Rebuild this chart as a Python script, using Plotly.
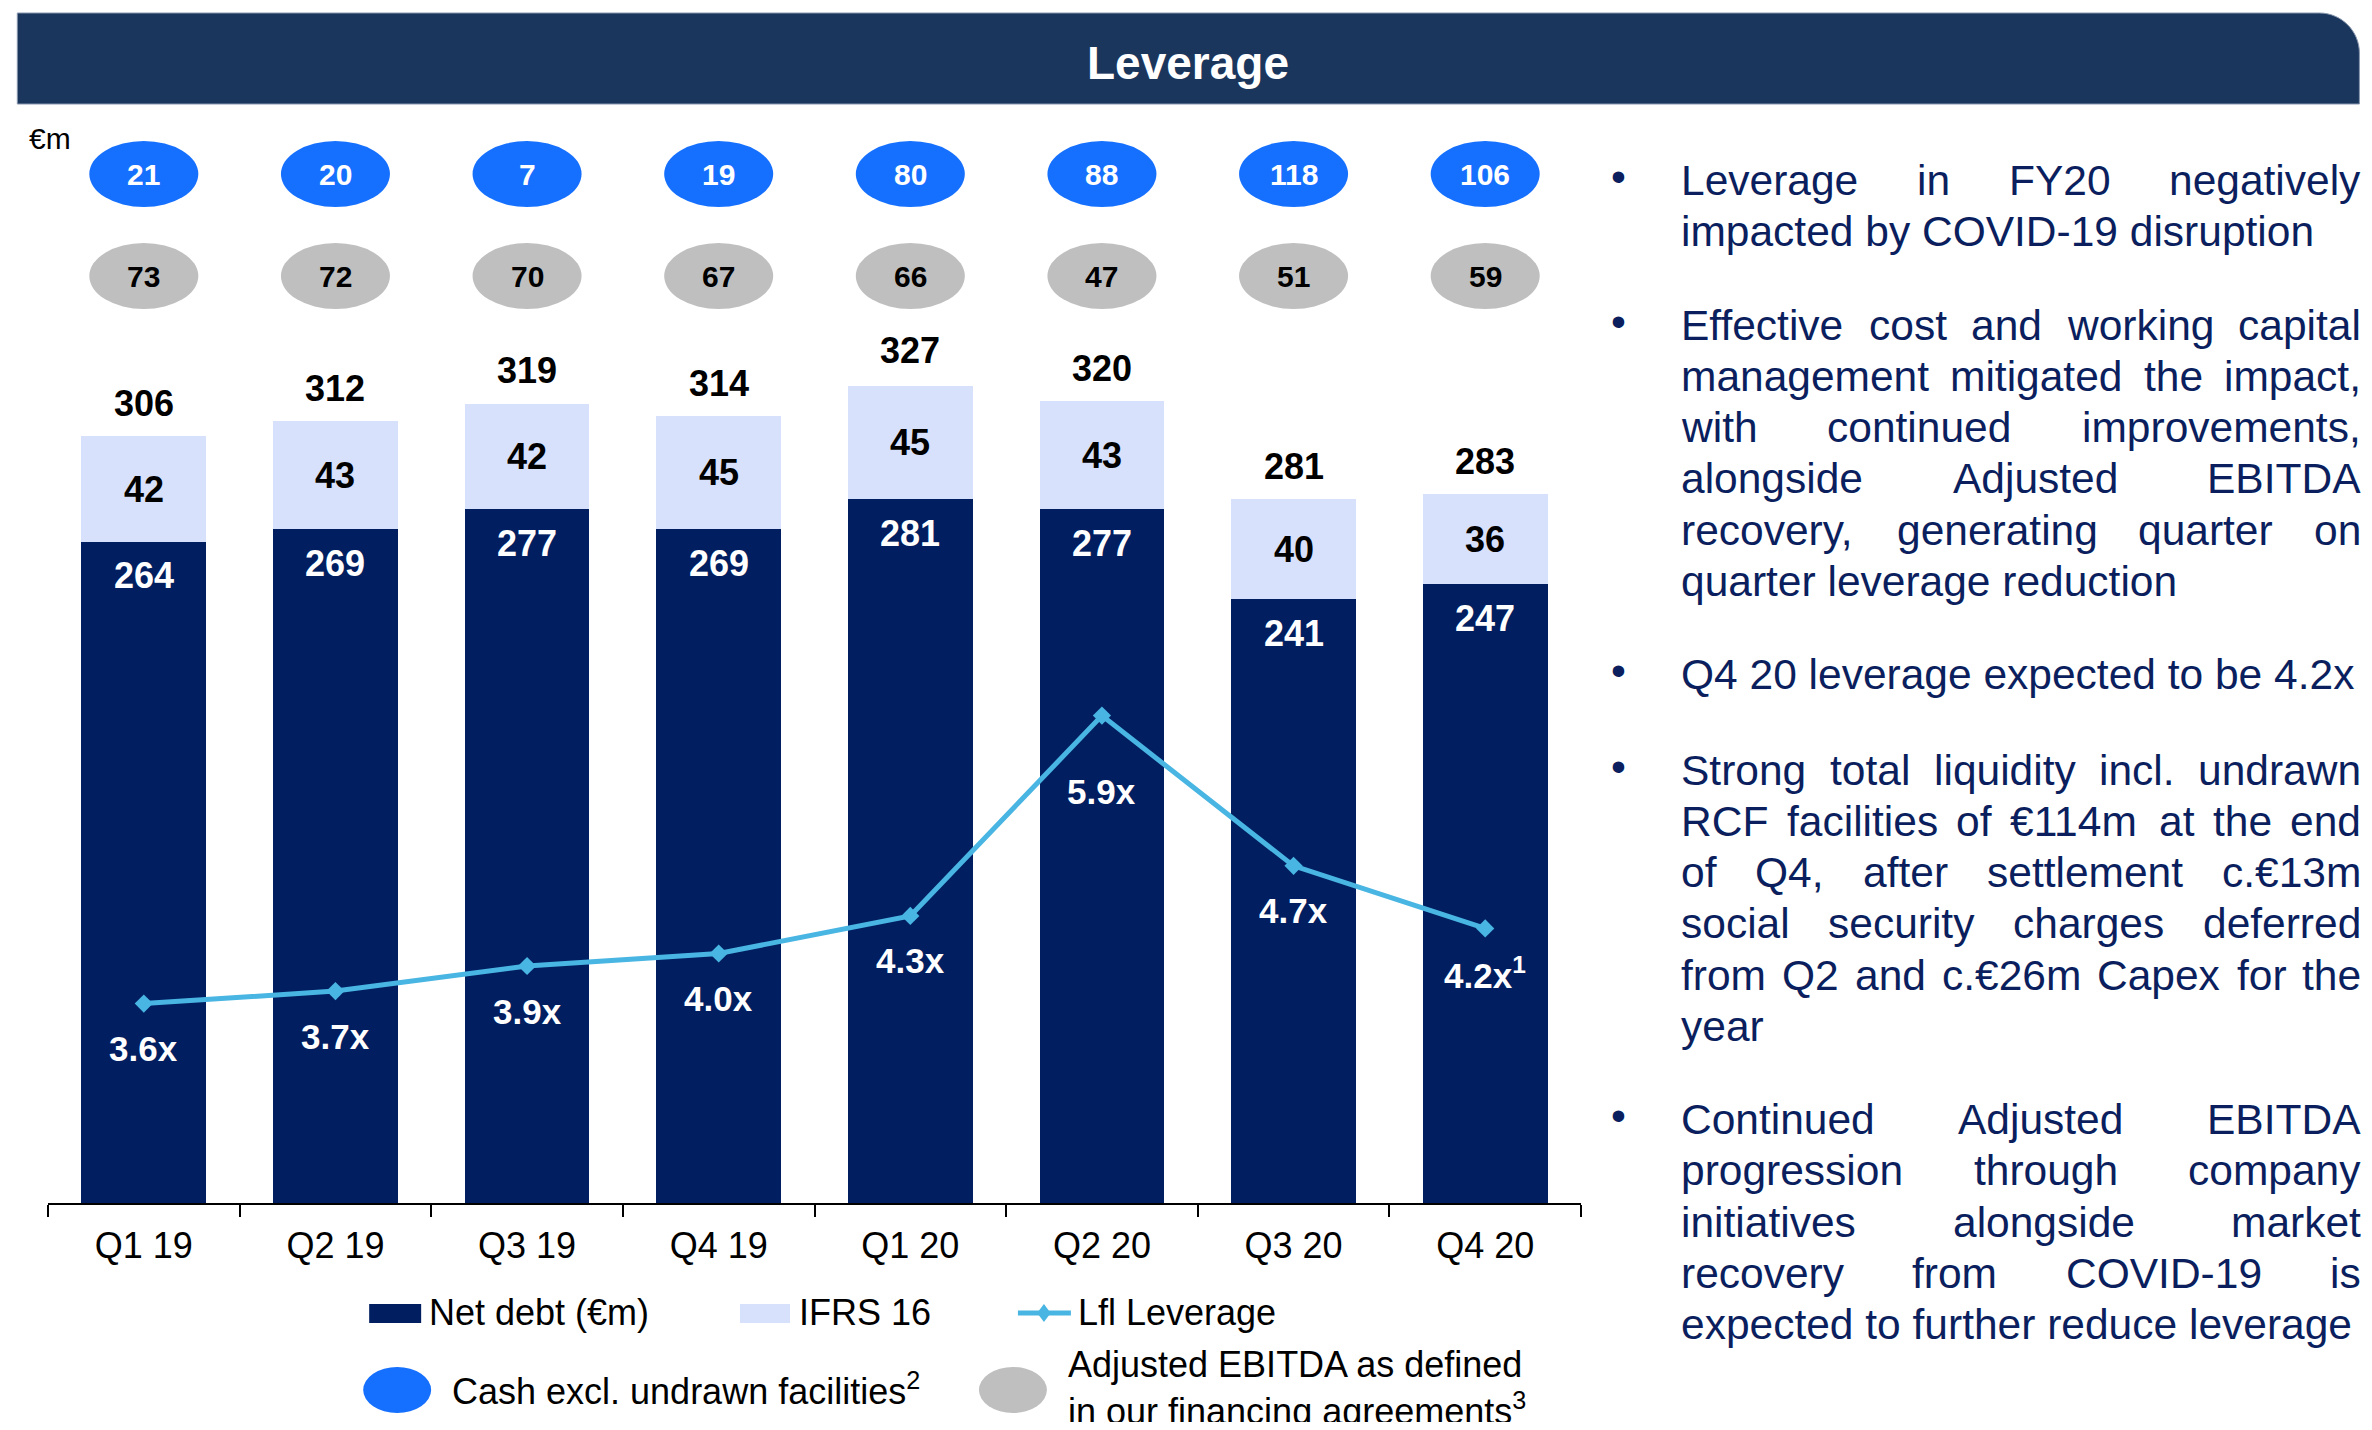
import plotly.graph_objects as go

# ---------------- data ----------------
QUARTERS = ["Q1 19", "Q2 19", "Q3 19", "Q4 19", "Q1 20", "Q2 20", "Q3 20", "Q4 20"]
NET_DEBT = [264, 269, 277, 269, 281, 277, 241, 247]
IFRS16 = [42, 43, 42, 45, 45, 43, 40, 36]
TOTAL = [306, 312, 319, 314, 327, 320, 281, 283]
LEVERAGE = [3.6, 3.7, 3.9, 4.0, 4.3, 5.9, 4.7, 4.2]
LEVERAGE_LABELS = ["3.6x", "3.7x", "3.9x", "4.0x", "4.3x", "5.9x", "4.7x", "4.2x<sup>1</sup>"]
CASH = [21, 20, 7, 19, 80, 88, 118, 106]
EBITDA = [73, 72, 70, 67, 66, 47, 51, 59]

TITLE = "Leverage"
UNIT = "€m"
LEGEND_ROW1 = ["Net debt (€m)", "IFRS 16", "Lfl Leverage"]
LEGEND_CASH = "Cash excl. undrawn facilities<sup>2</sup>"
LEGEND_EBITDA = ["Adjusted EBITDA as defined", "in our financing agreements<sup>3</sup>"]

PARAGRAPHS = [
    ["Leverage in FY20 negatively",
     "impacted by COVID-19 disruption"],
    ["Effective cost and working capital",
     "management mitigated the impact,",
     "with continued improvements,",
     "alongside Adjusted EBITDA",
     "recovery, generating quarter on",
     "quarter leverage reduction"],
    ["Q4 20 leverage expected to be 4.2x"],
    ["Strong total liquidity incl. undrawn",
     "RCF facilities of €114m at the end",
     "of Q4, after settlement c.€13m",
     "social security charges deferred",
     "from Q2 and c.€26m Capex for the",
     "year"],
    ["Continued Adjusted EBITDA",
     "progression through company",
     "initiatives alongside market",
     "recovery from COVID-19 is",
     "expected to further reduce leverage"],
]

# ---------------- styles / layout ----------------
PAGE_OFF = 8               # browser default body margin
W, H = 2356, 1414          # figure size (fits in 2372x1430 with body margin)
PL, PR = 47.7, 1581.3      # plot x extent (page px)
PT, PB = 130, 1203         # plot y extent (page px)
FONT = "Liberation Sans, Arial, sans-serif"
NAVY = "#001E60"
IFRS_C = "#D7E1FB"
LINE_C = "#48B5E2"
HEADER_C = "#1B365D"
BLUE_E = "#1670FF"
GRAY_E = "#BFBFBF"
TEXT_NAVY = "#0B1F5E"

BAR_MAX = (PB - PT) / 2.505
Y2_LO = 4.2875 - (PB - 917.5) / 125.2
Y2_HI = 4.2875 + (917.5 - PT) / 125.2


def px(x):
    return (x - PL) / (PR - PL)


def py(y):
    return (PB - y) / (PB - PT)


fig = go.Figure()
fig.add_trace(go.Bar(x=QUARTERS, y=NET_DEBT, marker_color=NAVY, marker_line_width=0,
                     name=LEGEND_ROW1[0], showlegend=False))
fig.add_trace(go.Bar(x=QUARTERS, y=IFRS16, marker_color=IFRS_C, marker_line_width=0,
                     name=LEGEND_ROW1[1], showlegend=False))
fig.add_trace(go.Scatter(x=QUARTERS, y=LEVERAGE, yaxis="y2", mode="lines+markers",
                         line=dict(color=LINE_C, width=5),
                         marker=dict(symbol="diamond", size=14, color=LINE_C),
                         name=LEGEND_ROW1[2], showlegend=False))

ann = []
shapes = []

# bar labels
for q, n, f, t in zip(QUARTERS, NET_DEBT, IFRS16, TOTAL):
    ann.append(dict(x=q, y=t, xref="x", yref="y", text=f"<b>{t}</b>", showarrow=False,
                    xanchor="center", yanchor="middle", yshift=33,
                    font=dict(size=36, color="black")))
    ann.append(dict(x=q, y=n + f / 2, xref="x", yref="y", text=f"<b>{f}</b>", showarrow=False,
                    xanchor="center", yanchor="middle", font=dict(size=36, color="black")))
    ann.append(dict(x=q, y=n, xref="x", yref="y", text=f"<b>{n}</b>", showarrow=False,
                    xanchor="center", yanchor="middle", yshift=-34,
                    font=dict(size=36, color="white")))

# leverage labels
peak = max(LEVERAGE)
for q, v, lab in zip(QUARTERS, LEVERAGE, LEVERAGE_LABELS):
    ann.append(dict(x=q, y=v, xref="x", yref="y2", text=f"<b>{lab}</b>", showarrow=False,
                    xanchor="center", yanchor="middle", yshift=-76 if v == peak else -45,
                    font=dict(size=35, color="white")))

# ellipses rows (cash, ebitda)
for i, (q, c, e) in enumerate(zip(QUARTERS, CASH, EBITDA)):
    for yc, val, fill, tc in ((174, c, BLUE_E, "white"), (276, e, GRAY_E, "black")):
        shapes.append(dict(type="circle", xref="x", yref="paper", xsizemode="pixel",
                           ysizemode="pixel", xanchor=i, yanchor=py(yc),
                           x0=-54.5, x1=54.5, y0=-33, y1=33,
                           fillcolor=fill, line=dict(width=0), layer="above"))
        ann.append(dict(x=q, y=py(yc), xref="x", yref="paper", text=f"<b>{val}</b>",
                        showarrow=False, xanchor="center", yanchor="middle",
                        font=dict(size=30, color=tc)))

# header band with rounded top-right corner
hx0, hx1, hy0, hy1, r = 17, 2360, 13, 104, 40
path = (f"M {px(hx0)},{py(hy1)} L {px(hx0)},{py(hy0)} L {px(hx1 - r)},{py(hy0)} "
        f"C {px(hx1 - r * 0.45)},{py(hy0)} {px(hx1)},{py(hy0 + r * 0.45)} {px(hx1)},{py(hy0 + r)} "
        f"L {px(hx1)},{py(hy1)} Z")
shapes.append(dict(type="path", xref="paper", yref="paper", path=path,
                   fillcolor=HEADER_C, line=dict(color="#8796AE", width=1)))
ann.append(dict(x=px((hx0 + hx1) / 2), y=py(63), xref="paper", yref="paper",
                text=f"<b>{TITLE}</b>", showarrow=False, xanchor="center", yanchor="middle",
                font=dict(size=46, color="white")))

# unit label
ann.append(dict(x=px(27), y=py(138), xref="paper", yref="paper", text=UNIT,
                showarrow=False, xanchor="left", yanchor="middle",
                font=dict(size=30, color="black")))

# custom legend
LEG_Y1 = 1312
shapes.append(dict(type="rect", xref="paper", yref="paper", x0=px(369), x1=px(421),
                   y0=py(1323), y1=py(1304), fillcolor=NAVY, line=dict(width=0)))
shapes.append(dict(type="rect", xref="paper", yref="paper", x0=px(740), x1=px(790),
                   y0=py(1323), y1=py(1304), fillcolor=IFRS_C, line=dict(width=0)))
shapes.append(dict(type="line", xref="paper", yref="paper", x0=px(1018), x1=px(1071),
                   y0=py(1313), y1=py(1313), line=dict(color=LINE_C, width=5)))
dcx, dcy, dr = 1044, 1313, 9
shapes.append(dict(type="path", xref="paper", yref="paper",
                   path=(f"M {px(dcx)},{py(dcy - dr)} L {px(dcx + dr * 0.75)},{py(dcy)} "
                         f"L {px(dcx)},{py(dcy + dr)} L {px(dcx - dr * 0.75)},{py(dcy)} Z"),
                   fillcolor=LINE_C, line=dict(width=0)))
for xl, txt in zip((427, 797, 1076), LEGEND_ROW1):
    ann.append(dict(x=px(xl), y=py(LEG_Y1), xref="paper", yref="paper", text=txt,
                    showarrow=False, xanchor="left", yanchor="middle",
                    font=dict(size=36, color="black")))
for cx, fill in ((397, BLUE_E), (1013, GRAY_E)):
    shapes.append(dict(type="circle", xref="paper", yref="paper",
                       x0=px(cx - 34), x1=px(cx + 34), y0=py(1413), y1=py(1367),
                       fillcolor=fill, line=dict(width=0)))
ann.append(dict(x=px(450), y=py(1389), xref="paper", yref="paper", text=LEGEND_CASH,
                showarrow=False, xanchor="left", yanchor="middle",
                font=dict(size=36, color="black")))
ann.append(dict(x=px(1066), y=py(1388), xref="paper", yref="paper",
                text="<br>".join(LEGEND_EBITDA), align="left",
                showarrow=False, xanchor="left", yanchor="middle",
                font=dict(size=36, color="black")))

# right-hand justified text
ARIAL_W = {' ': 278, ',': 278, '-': 333, '.': 278, '€': 556, 'A': 667, 'B': 667, 'C': 722,
           'D': 722, 'E': 667, 'F': 611, 'G': 778, 'H': 722, 'I': 278, 'J': 500, 'K': 667,
           'L': 556, 'M': 833, 'N': 722, 'O': 778, 'P': 667, 'Q': 778, 'R': 722, 'S': 667,
           'T': 611, 'U': 722, 'V': 667, 'W': 944, 'X': 667, 'Y': 667, 'Z': 611,
           'a': 556, 'b': 556, 'c': 500, 'd': 556, 'e': 556, 'f': 278, 'g': 556, 'h': 556,
           'i': 222, 'j': 222, 'k': 500, 'l': 222, 'm': 833, 'n': 556, 'o': 556, 'p': 556,
           'q': 556, 'r': 333, 's': 500, 't': 278, 'u': 556, 'v': 500, 'w': 722, 'x': 500,
           'y': 500, 'z': 500}
TS = 42.5
TL, TR = 1681, 2362
BULLET_X = 1619
PARA_Y = [180, 325, 674.7, 770, 1119.5]
LINE_H = 51.3


def tw(s):
    return sum(ARIAL_W.get(ch, 556) for ch in s) / 1000 * TS


def word_ann(x, y, txt, anchor):
    return dict(x=px(x), y=py(y), xref="paper", yref="paper", text=txt, showarrow=False,
                xanchor=anchor, yanchor="middle", borderpad=0, borderwidth=0,
                font=dict(size=TS, color=TEXT_NAVY))


for para, y0 in zip(PARAGRAPHS, PARA_Y):
    ann.append(dict(x=px(BULLET_X), y=py(y0 - 4), xref="paper", yref="paper", text="•",
                    showarrow=False, xanchor="center", yanchor="middle",
                    font=dict(size=TS, color=TEXT_NAVY)))
    for li, line in enumerate(para):
        y = y0 + li * LINE_H
        words = line.split()
        last = li == len(para) - 1
        if last or len(words) == 1:
            ann.append(word_ann(TL, y, line, "left"))
            continue
        widths = [tw(w) for w in words]
        gap = (TR - TL - sum(widths)) / (len(words) - 1)
        xcur = TL
        for wi, (w, wd) in enumerate(zip(words, widths)):
            if wi == len(words) - 1:
                ann.append(word_ann(TR, y, w, "right"))
            else:
                ann.append(word_ann(xcur, y, w, "left"))
            xcur += wd + gap

fig.update_layout(
    width=W, height=H,
    margin=dict(l=PL - PAGE_OFF, r=(PAGE_OFF + W) - PR, t=PT - PAGE_OFF,
                b=(PAGE_OFF + H) - PB, pad=0),
    paper_bgcolor="white", plot_bgcolor="white",
    font=dict(family=FONT, color="black"),
    barmode="stack", bargap=0.349,
    showlegend=False,
    xaxis=dict(type="category", showline=True, linecolor="black", linewidth=1.5,
               ticks="outside", ticklen=12, tickwidth=1.5, tickcolor="black",
               tickson="boundaries", tickfont=dict(size=36, color="black"),
               ticklabelstandoff=10,
               showgrid=False, zeroline=False, fixedrange=True),
    yaxis=dict(range=[0, BAR_MAX], visible=False, showgrid=False, zeroline=False),
    yaxis2=dict(range=[Y2_LO, Y2_HI], overlaying="y", visible=False, showgrid=False,
                zeroline=False),
    annotations=ann,
    shapes=shapes,
)

fig.write_html("out.html")
